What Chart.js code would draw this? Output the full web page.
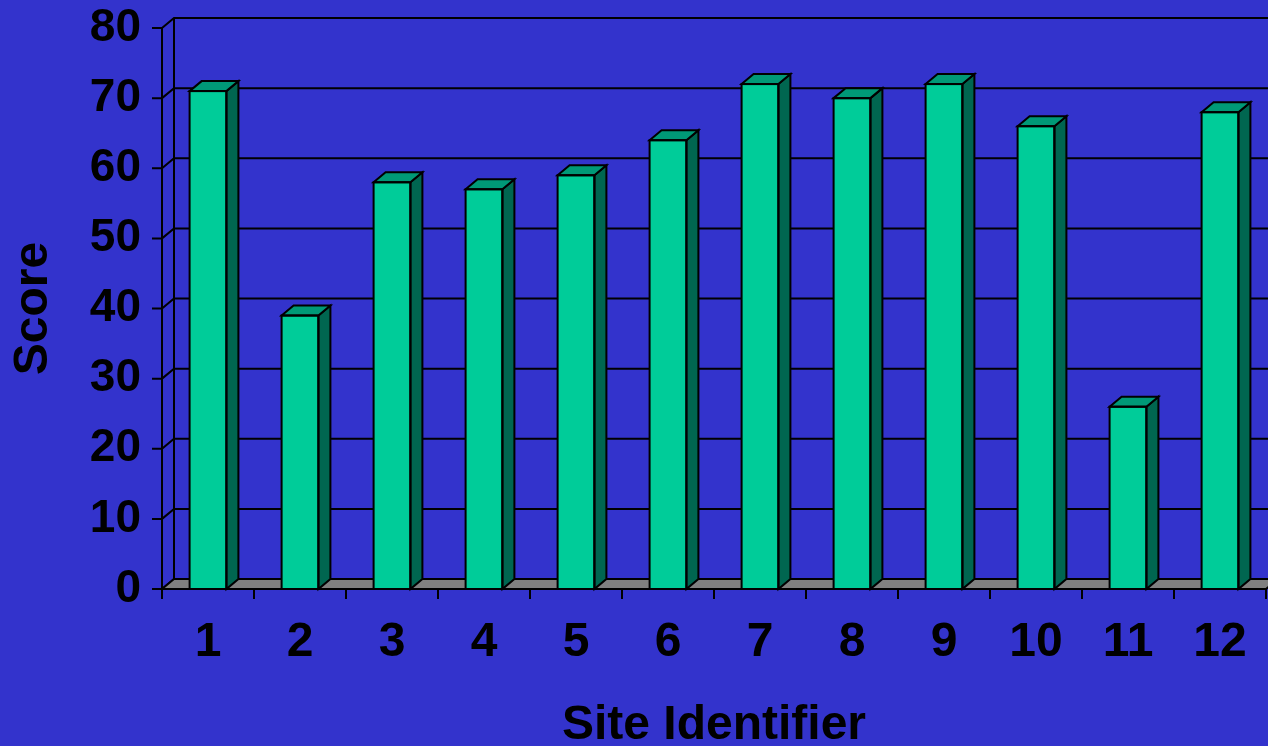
<!DOCTYPE html>
<html>
<head>
<meta charset="utf-8">
<script src="https://cdn.jsdelivr.net/npm/chart.js@4.4.1/dist/chart.umd.min.js"></script>
<style>
  html, body { margin: 0; padding: 0; background: #3333cc; overflow: hidden; }
  #c { display: block; }
</style>
</head>
<body>
<canvas id="c" width="1268" height="746"></canvas>
<script>
// Site scores
const sites  = ['1', '2', '3', '4', '5', '6', '7', '8', '9', '10', '11', '12'];
const scores = [71, 39, 58, 57, 59, 64, 72, 70, 72, 66, 26, 68];
const yTicks = [0, 10, 20, 30, 40, 50, 60, 70, 80];

// depth of the pseudo-3D box (right, up)
const DX = 12, DY = -10;

const FONT = "'Liberation Sans', Arial, Helvetica, sans-serif";
Chart.defaults.font.family = FONT;
Chart.defaults.color = '#000';

const depth3d = {
  id: 'depth3d',
  beforeDatasetsDraw(chart) {
    const { ctx, chartArea: a, scales: { x, y } } = chart;
    ctx.save();
    ctx.strokeStyle = '#000';
    ctx.lineWidth = 2;
    ctx.lineJoin = 'miter';

    // tick marks, side-wall diagonals and back-wall gridlines
    yTicks.forEach(v => {
      const py = y.getPixelForValue(v);
      ctx.beginPath();
      ctx.moveTo(a.left - 10, py);
      ctx.lineTo(a.left, py);
      ctx.lineTo(a.left + DX, py + DY);
      if (v > 0) ctx.lineTo(chart.width + 20, py + DY);
      ctx.stroke();
    });

    // side-wall vertical edges
    const yTop = y.getPixelForValue(80);
    ctx.beginPath();
    ctx.moveTo(a.left, yTop);
    ctx.lineTo(a.left, a.bottom);
    ctx.moveTo(a.left + DX, yTop + DY);
    ctx.lineTo(a.left + DX, a.bottom + DY);
    ctx.stroke();

    // floor
    ctx.beginPath();
    ctx.moveTo(a.left, a.bottom);
    ctx.lineTo(a.right, a.bottom);
    ctx.lineTo(a.right + DX, a.bottom + DY);
    ctx.lineTo(a.left + DX, a.bottom + DY);
    ctx.closePath();
    ctx.fillStyle = '#808080';
    ctx.fill();
    ctx.stroke();

    // category tick marks
    ctx.beginPath();
    for (let i = 0; i <= sites.length; i++) {
      const px = x.getPixelForValue(i - 0.5);
      ctx.moveTo(px, a.bottom);
      ctx.lineTo(px, a.bottom + 10);
    }
    ctx.stroke();
    ctx.restore();
  },
  afterDatasetsDraw(chart) {
    const { ctx } = chart;
    const meta = chart.getDatasetMeta(0);
    ctx.save();
    ctx.strokeStyle = '#000';
    ctx.lineWidth = 2;
    ctx.lineJoin = 'miter';
    meta.data.forEach(bar => {
      const { x: cx, y: top, base, width } = bar.getProps(['x', 'y', 'base', 'width'], true);
      const l = cx - width / 2, r = cx + width / 2;
      // side face
      ctx.beginPath();
      ctx.moveTo(r, top);
      ctx.lineTo(r + DX, top + DY);
      ctx.lineTo(r + DX, base + DY);
      ctx.lineTo(r, base);
      ctx.closePath();
      ctx.fillStyle = '#006650';
      ctx.fill();
      ctx.stroke();
      // top face
      ctx.beginPath();
      ctx.moveTo(l, top);
      ctx.lineTo(l + DX, top + DY);
      ctx.lineTo(r + DX, top + DY);
      ctx.lineTo(r, top);
      ctx.closePath();
      ctx.fillStyle = '#009977';
      ctx.fill();
      ctx.stroke();
      // front outline
      ctx.strokeRect(l, top, width, base - top);
    });
    ctx.restore();
  }
};

new Chart(document.getElementById('c'), {
  type: 'bar',
  data: {
    labels: sites,
    datasets: [{
      data: scores,
      backgroundColor: '#00cc99',
      borderWidth: 0,
      barPercentage: 0.4,
      categoryPercentage: 1
    }]
  },
  options: {
    responsive: false,
    animation: false,
    devicePixelRatio: 1,
    layout: { padding: { top: 28, right: 2, left: 0, bottom: 0 } },
    plugins: { legend: { display: false }, tooltip: { enabled: false } },
    scales: {
      x: {
        offset: true,
        grid: { display: false, drawTicks: false },
        border: { display: false },
        ticks: {
          color: '#000', padding: 30, maxRotation: 0, autoSkip: false,
          font: { size: 48, weight: 'bold', lineHeight: 1 }
        },
        title: {
          display: true, text: 'Site Identifier', color: '#000',
          font: { size: 48, weight: 'bold', lineHeight: 1 },
          padding: { top: 0, bottom: -4 }
        },
        afterFit(s) {
          s.height = 157;
          s.paddingLeft = 0;
          s.paddingRight = 0;
        }
      },
      y: {
        min: 0, max: 80,
        grid: { display: false, drawTicks: false },
        border: { display: false },
        ticks: {
          stepSize: 10, color: '#000', padding: 21,
          font: { size: 46, weight: 'bold', lineHeight: 1 }
        },
        title: {
          display: true, text: 'Score', color: '#000',
          font: { size: 48, weight: 'bold', lineHeight: 1 },
          padding: { top: 10, bottom: 0 }
        },
        afterFit(s) {
          s.width = 162;
          s.paddingTop = 0;
          s.paddingBottom = 0;
        }
      }
    }
  },
  plugins: [depth3d]
});
</script>
</body>
</html>
